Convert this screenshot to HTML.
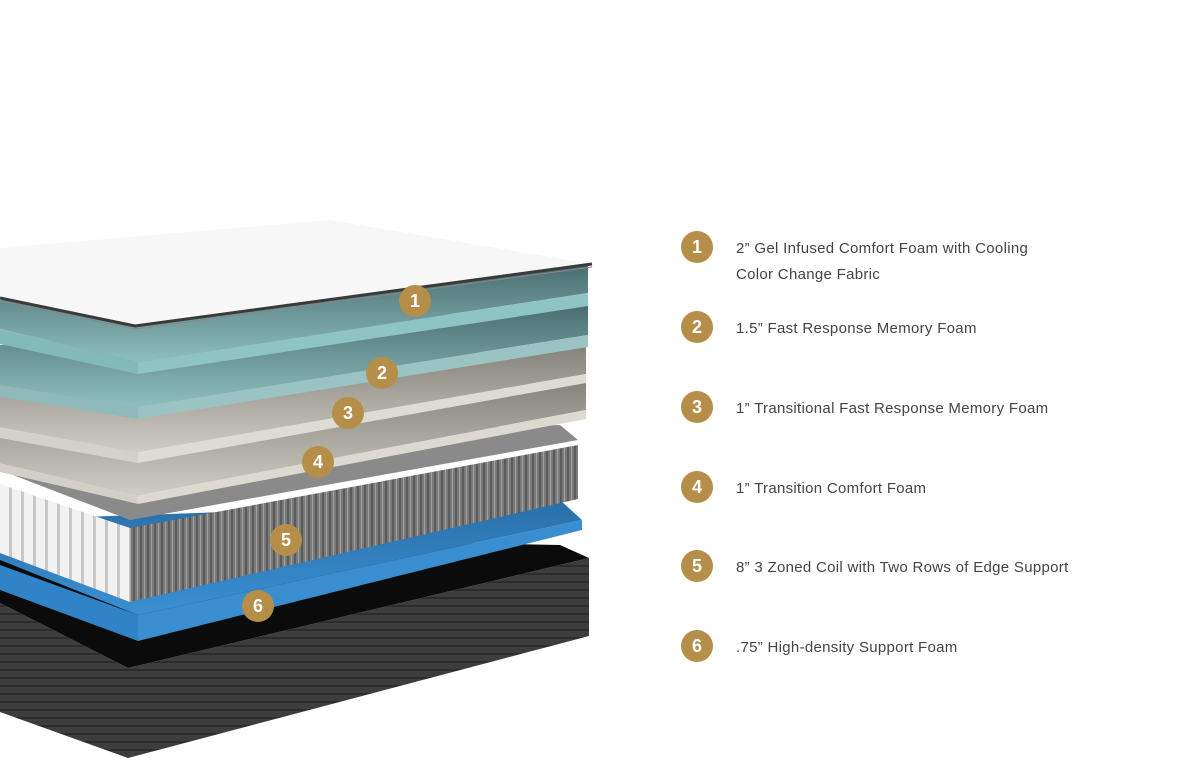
<!DOCTYPE html>
<html><head><meta charset="utf-8"><style>
html,body{margin:0;padding:0;background:#fff;width:1179px;height:784px;overflow:hidden}
.t{position:absolute;left:736px;font-family:"Liberation Sans",sans-serif;font-size:15px;color:#444;letter-spacing:0.3px;line-height:26px}
.b{position:absolute;left:681px;width:32px;height:32px;border-radius:50%;background:#b58f49;color:#fff;font:bold 18px "Liberation Sans",sans-serif;text-align:center;line-height:32px}
</style></head><body>
<svg width="1179" height="784" style="position:absolute;left:0;top:0">
<defs>
<linearGradient id="tealTop" x1="0" y1="0" x2="0" y2="1"><stop offset="0" stop-color="#4a6e70"/><stop offset="1" stop-color="#8fbfbf"/></linearGradient>
<linearGradient id="greyTop" x1="0" y1="0" x2="0" y2="1"><stop offset="0" stop-color="#858379"/><stop offset="1" stop-color="#cfcdc3"/></linearGradient>
<linearGradient id="blueTop" x1="0" y1="0" x2="0" y2="1"><stop offset="0" stop-color="#2a6fa8"/><stop offset="1" stop-color="#3a90d2"/></linearGradient>
<pattern id="coilP" width="7" height="10" patternUnits="userSpaceOnUse"><rect width="7" height="10" fill="#7a7a7a"/><rect x="0" width="2" height="10" fill="#5a5a5a"/><rect x="4" width="1" height="10" fill="#a0a0a0"/></pattern>
<pattern id="whiteP" width="12" height="10" patternUnits="userSpaceOnUse"><rect width="12" height="10" fill="#f2f2f2"/><rect x="9" width="3" height="10" fill="#c8c8c8"/></pattern>
<pattern id="baseP" width="10" height="8" patternUnits="userSpaceOnUse"><rect width="10" height="8" fill="#3d3d3d"/><rect y="5" width="10" height="2" fill="#2c2c2c"/></pattern>
</defs>
<polygon points="0,603 128,668 589,558 589,636 128,758 0,712" fill="url(#baseP)"/>
<polygon points="0,603 128,668 589,558 560,545 300,540 0,560" fill="#0b0b0b"/>
<polygon points="0,560 138,615 582,520 560,500 0,520" fill="url(#blueTop)"/>
<polygon points="138,615 582,520 582,530 138,641" fill="#3a8ed0"/>
<polygon points="0,565 138,615 138,641 0,590" fill="#2f83c6"/>
<polygon points="0,470 130,520 578,440 560,425 0,440" fill="#8a8a8a"/>
<polygon points="130,528 578,445 578,499 130,602" fill="url(#coilP)"/>
<polygon points="0,484 130,528 130,602 0,553" fill="url(#whiteP)"/>
<polygon points="0,463 138,495 586,410 586,380 0,420" fill="url(#greyTop)"/>
<polygon points="138,495 586,410 586,419 138,504" fill="#dcdad0"/>
<polygon points="0,463 138,495 138,504 0,472" fill="#d2d0c6"/>
<polygon points="0,427 138,452 586,374 586,345 0,385" fill="url(#greyTop)"/>
<polygon points="138,452 586,374 586,383 138,463" fill="#dedcd2"/>
<polygon points="0,427 138,452 138,463 0,438" fill="#d4d2c8"/>
<polygon points="0,385 138,407 588,335 588,305 0,345" fill="url(#tealTop)"/>
<polygon points="138,407 588,335 588,347 138,419" fill="#9cc3c4"/>
<polygon points="0,385 138,407 138,419 0,397" fill="#8fb9ba"/>
<polygon points="0,329 138,362 588,293 588,265 0,300" fill="url(#tealTop)"/>
<polygon points="138,362 588,293 588,306 138,374" fill="#8ec4c4"/>
<polygon points="0,329 138,362 138,374 0,344" fill="#82baba"/>
<polygon points="0,248 330,220 592,264 135,326 0,298" fill="#f7f7f7"/>
<polyline points="0,298 135,326 592,264" fill="none" stroke="#3a3a3a" stroke-width="3"/>
<polyline points="0,301 135,329 592,267" fill="none" stroke="#888" stroke-width="1"/>
<g font-family="Liberation Sans" font-weight="bold" font-size="18" fill="#fff" text-anchor="middle">
<circle cx="415" cy="301" r="16" fill="#b58f49"/><text x="415" y="307">1</text>
<circle cx="382" cy="373" r="16" fill="#b58f49"/><text x="382" y="379">2</text>
<circle cx="348" cy="413" r="16" fill="#b58f49"/><text x="348" y="419">3</text>
<circle cx="318" cy="462" r="16" fill="#b58f49"/><text x="318" y="468">4</text>
<circle cx="286" cy="540" r="16" fill="#b58f49"/><text x="286" y="546">5</text>
<circle cx="258" cy="606" r="16" fill="#b58f49"/><text x="258" y="612">6</text>
</g>
</svg>
<div class="b" style="top:231px">1</div>
<div class="t" style="top:236px">2” Gel Infused Comfort Foam with Cooling<br>Color Change Fabric</div>
<div class="b" style="top:311px">2</div>
<div class="t" style="top:316px">1.5” Fast Response Memory Foam</div>
<div class="b" style="top:391px">3</div>
<div class="t" style="top:396px">1” Transitional Fast Response Memory Foam</div>
<div class="b" style="top:471px">4</div>
<div class="t" style="top:476px">1” Transition Comfort Foam</div>
<div class="b" style="top:550px">5</div>
<div class="t" style="top:555px">8” 3 Zoned Coil with Two Rows of Edge Support</div>
<div class="b" style="top:630px">6</div>
<div class="t" style="top:635px">.75” High-density Support Foam</div>
</body></html>
